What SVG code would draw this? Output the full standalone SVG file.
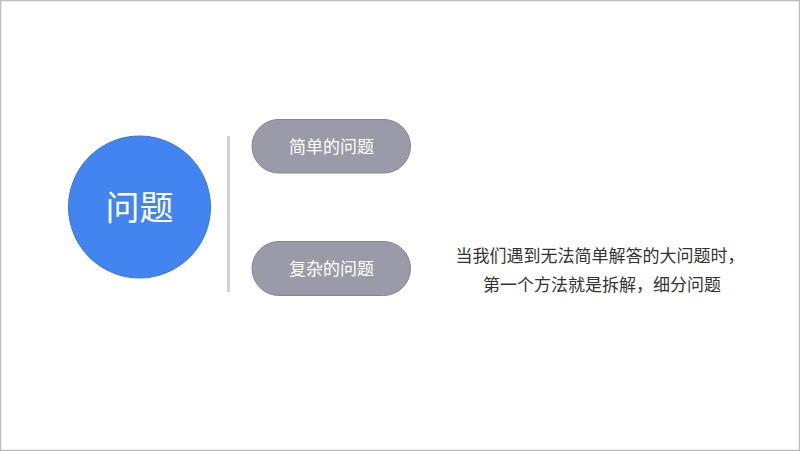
<svg xmlns="http://www.w3.org/2000/svg" width="800" height="451" viewBox="0 0 800 451">
<style>
.pill{fill:#9b9aa8;stroke:#85859a;stroke-width:1}
.pt{font-family:"Noto Sans CJK SC","Noto Sans",sans-serif;font-size:17px;fill:#ffffff;text-anchor:middle}
.body{font-family:"Noto Sans CJK SC","Noto Sans",sans-serif;font-size:17px;fill:#333333;text-anchor:middle}
</style>
<rect x="0.5" y="0.5" width="799" height="450" fill="#ffffff" stroke="#bdbdbd" stroke-width="1.5"/>
<g id="main">
<circle cx="139.5" cy="207" r="71" fill="#4285f0" stroke="#3a74d8" stroke-width="1"/>
<text x="139.5" y="220" font-family="'Noto Sans CJK SC','Noto Sans',sans-serif" font-size="34" fill="#ffffff" text-anchor="middle">问题</text>
</g>
<g id="connectors">
<line x1="228.5" y1="136" x2="228.5" y2="292" stroke="#d3d3d3" stroke-width="3"/>
</g>
<g id="simple">
<rect class="pill" x="252" y="119.5" width="158.5" height="53.5" rx="26.75"/>
<text class="pt" x="331.5" y="152.5">简单的问题</text>
</g>
<g id="complex">
<rect class="pill" x="252" y="241.5" width="158.5" height="54" rx="27"/>
<text class="pt" x="331.5" y="274.5">复杂的问题</text>
</g>
<g id="note">
<text class="body" x="600" y="262">当我们遇到无法简单解答的大问题时，</text>
<text class="body" x="602" y="291">第一个方法就是拆解，细分问题</text>
</g>
</svg>
